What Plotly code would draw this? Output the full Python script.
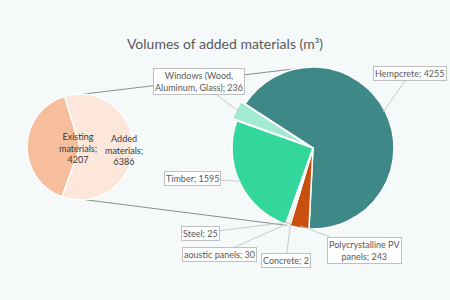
import math
import plotly.graph_objects as go

# ---------------- data ----------------
left_labels = ["Added materials", "Existing materials"]
left_values = [6386, 4207]
left_text = ["Added<br>materials;<br>6386", "Existing<br>materials;<br>4207"]
left_colors = ["#FDE6DA", "#F6BE9D"]

right_labels = ["Hempcrete", "Polycrystalline PV panels", "Concrete", "aoustic panels",
                "Steel", "Timber", "Windows (Wood, Aluminum, Glass)"]
right_values = [4255, 243, 2, 30, 25, 1595, 236]
right_text = ["Hempcrete; 4255", "Polycrystalline PV<br>panels; 243", "Concrete; 2",
              "aoustic panels; 30", "Steel; 25", "Timber; 1595",
              "Windows (Wood,<br>Aluminum, Glass); 236"]
right_colors = ["#3E8888", "#C84F0E", "#F4B183", "#A9D18E", "#BFBFBF", "#33D79B", "#A2EBD2"]
right_pull = [0, 0, 0, 0, 0, 0, 0.06]

# label box centres (pixels)
label_pos = [(410, 74), (364, 250), (286, 260), (219, 254), (200, 233), (192, 178), (199, 82)]

W, H = 450, 300
BG = "#F5F9F9"

# geometry (pixels)
L_C, L_R, L_ROT = (80, 147), 53, -17
R_C, R_R, R_ROT = (313, 148), 81, -57
MAXPULL = max(right_pull)


def dom(c, r, pull=0.0):
    rr = r * (1 + pull)
    return dict(x=[(c[0] - rr) / W, (c[0] + rr) / W],
                y=[1 - (c[1] + rr) / H, 1 - (c[1] - rr) / H])


def pt(c, r, ang):
    a = math.radians(ang)
    return (c[0] + r * math.sin(a), c[1] - r * math.cos(a))


def to_paper(p):
    return p[0] / W, 1 - p[1] / H


fig = go.Figure()
fig.add_trace(go.Pie(labels=left_labels, values=left_values, sort=False,
                     direction="clockwise", rotation=L_ROT, textinfo="none",
                     marker=dict(colors=left_colors, line=dict(color="white", width=1.5)),
                     domain=dom(L_C, L_R), showlegend=False, hoverinfo="label+value"))
fig.add_trace(go.Pie(labels=right_labels, values=right_values, sort=False,
                     direction="clockwise", rotation=R_ROT, textinfo="none",
                     pull=right_pull,
                     marker=dict(colors=right_colors, line=dict(color="white", width=1.5)),
                     domain=dom(R_C, R_R, MAXPULL), showlegend=False, hoverinfo="label+value"))

annotations = []
shapes = []

# left pie text
tot = sum(left_values)
cum = 0
for v, t in zip(left_values, left_text):
    mid = L_ROT + 360 * (cum + v / 2) / tot
    cum += v
    p = pt(L_C, L_R * 0.43, mid)
    x, y = to_paper((p[0], p[1] + 2))
    annotations.append(dict(x=x, y=y, xref="paper", yref="paper", text=t, showarrow=False,
                            font=dict(size=9, color="#3A3A3A", family="Lato")))

# right pie labels with leader lines
tot = sum(right_values)
cum = 0
for v, t, lp, pl in zip(right_values, right_text, label_pos, right_pull):
    mid = R_ROT + 360 * (cum + v / 2) / tot
    cum += v
    tip = pt(R_C, R_R * (1 + pl) * 0.97, mid)
    x, y = to_paper(tip)
    annotations.append(dict(x=x, y=y, xref="paper", yref="paper", text=t, showarrow=True,
                            ax=lp[0] - tip[0], ay=lp[1] - tip[1], arrowhead=0,
                            arrowwidth=0.8, arrowcolor="#BFBFBF",
                            bordercolor="#BFBFBF", borderwidth=1, borderpad=1,
                            bgcolor="#FFFFFF",
                            font=dict(size=9, color="#595959", family="Lato")))

# connector lines between the pies
added_share = left_values[0] / sum(left_values)
l_top = pt(L_C, L_R, L_ROT)
l_bot = pt(L_C, L_R, L_ROT + 360 * added_share)
r_top = pt(R_C, R_R, -11)
r_bot = pt(R_C, R_R, 196)
for a, b in [(l_top, r_top), (l_bot, r_bot)]:
    x0, y0 = to_paper(a)
    x1, y1 = to_paper(b)
    shapes.append(dict(type="line", xref="paper", yref="paper", x0=x0, y0=y0, x1=x1, y1=y1,
                       line=dict(color="#8C8C8C", width=1), layer="below"))

fig.update_layout(
    width=W, height=H,
    margin=dict(l=0, r=0, t=0, b=0),
    paper_bgcolor=BG, plot_bgcolor=BG,
    title=dict(text="Volumes of added materials (m³)", x=0.5, xanchor="center",
               y=1 - 44 / H, yanchor="middle",
               font=dict(size=14, color="#595959", family="Lato")),
    annotations=annotations, shapes=shapes,
)

fig.write_html("out.html")
